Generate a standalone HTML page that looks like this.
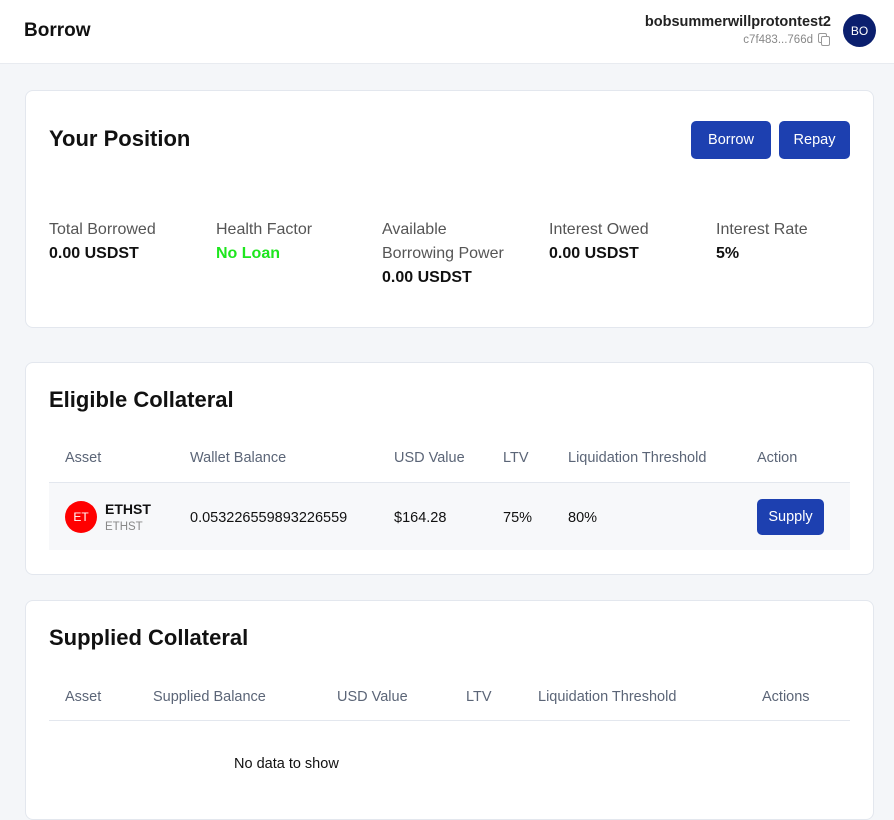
<!DOCTYPE html>
<html><head><style>
*{margin:0;padding:0;box-sizing:border-box}
body{width:894px;height:793px;overflow:hidden;background:#f4f6f9;font-family:"Liberation Sans",sans-serif;color:#111;position:relative}
.a{position:absolute;white-space:nowrap}
.card{position:absolute;left:25px;width:849px;background:#fff;border:1px solid #e3e7ee;border-radius:8px}
.btn{position:absolute;background:#1d40b0;color:#fff;border-radius:5px;font-size:14.5px;display:flex;align-items:center;justify-content:center}
.lab{font-size:16px;color:#555;transform:translateY(2px)}
.val{font-size:16px;font-weight:bold;transform:translateY(2px)}
.th{font-size:14.5px;color:#5b6577;transform:translateY(2px)}
.td{font-size:14.5px;color:#111;transform:translateY(2px)}
.h{font-size:22px;font-weight:bold;transform:translateY(2px)}
</style></head><body>
<div class="a" style="left:0;top:0;width:894px;height:64px;background:#fff;border-bottom:1px solid #e8ebf0"></div>
<div class="a" style="left:24px;top:20px;font-size:19px;font-weight:bold">Borrow</div>
<div class="a" style="right:63px;top:14px;font-size:14.5px;font-weight:bold;color:#222">bobsummerwillprotontest2</div>
<div class="a" style="right:81px;top:34px;font-size:11.5px;color:#888">c7f483...766d</div>
<div class="a" style="left:818px;top:33px;width:9px;height:10px;border:1.5px solid #999;border-radius:2px"></div>
<div class="a" style="left:821px;top:36px;width:9px;height:10px;border:1.5px solid #999;border-radius:2px;background:#fff"></div>
<div class="a" style="left:843px;top:14px;width:33px;height:33px;border-radius:50%;background:#0b1f6e;color:#fff;font-size:12px;display:flex;align-items:center;justify-content:center">BO</div>

<div class="card" style="top:90px;height:238px"></div>
<div class="a h" style="left:49px;top:124px">Your Position</div>
<div class="btn" style="left:691px;top:121px;width:80px;height:38px">Borrow</div>
<div class="btn" style="left:779px;top:121px;width:71px;height:38px">Repay</div>
<div class="a lab" style="left:49px;top:219px">Total Borrowed</div>
<div class="a val" style="left:49px;top:243px">0.00 USDST</div>
<div class="a lab" style="left:216px;top:219px">Health Factor</div>
<div class="a val" style="left:216px;top:243px;color:#1ee61e">No Loan</div>
<div class="a lab" style="left:382px;top:219px">Available</div>
<div class="a lab" style="left:382px;top:243px">Borrowing Power</div>
<div class="a val" style="left:382px;top:267px">0.00 USDST</div>
<div class="a lab" style="left:549px;top:219px">Interest Owed</div>
<div class="a val" style="left:549px;top:243px">0.00 USDST</div>
<div class="a lab" style="left:716px;top:219px">Interest Rate</div>
<div class="a val" style="left:716px;top:243px">5%</div>

<div class="card" style="top:362px;height:213px"></div>
<div class="a h" style="left:49px;top:385px">Eligible Collateral</div>
<div class="a th" style="left:65px;top:448px">Asset</div>
<div class="a th" style="left:190px;top:448px">Wallet Balance</div>
<div class="a th" style="left:394px;top:448px">USD Value</div>
<div class="a th" style="left:503px;top:448px">LTV</div>
<div class="a th" style="left:568px;top:448px">Liquidation Threshold</div>
<div class="a th" style="left:757px;top:448px">Action</div>
<div class="a" style="left:49px;top:482px;width:801px;height:68px;background:#f7f8fa;border-top:1px solid #e3e7ee"></div>
<div class="a" style="left:65px;top:501px;width:32px;height:32px;border-radius:50%;background:#f00;color:#fff;font-size:12px;display:flex;align-items:center;justify-content:center">ET</div>
<div class="a" style="left:105px;top:501px;font-size:14px;font-weight:bold">ETHST</div>
<div class="a" style="left:105px;top:521px;font-size:11.5px;color:#888">ETHST</div>
<div class="a td" style="left:190px;top:508px">0.053226559893226559</div>
<div class="a td" style="left:394px;top:508px">$164.28</div>
<div class="a td" style="left:503px;top:508px">75%</div>
<div class="a td" style="left:568px;top:508px">80%</div>
<div class="btn" style="left:757px;top:499px;width:67px;height:36px">Supply</div>

<div class="card" style="top:600px;height:220px"></div>
<div class="a h" style="left:49px;top:623px">Supplied Collateral</div>
<div class="a th" style="left:65px;top:687px">Asset</div>
<div class="a th" style="left:153px;top:687px">Supplied Balance</div>
<div class="a th" style="left:337px;top:687px">USD Value</div>
<div class="a th" style="left:466px;top:687px">LTV</div>
<div class="a th" style="left:538px;top:687px">Liquidation Threshold</div>
<div class="a th" style="left:762px;top:687px">Actions</div>
<div class="a" style="left:49px;top:720px;width:801px;height:1px;background:#e3e7ee"></div>
<div class="a td" style="left:234px;top:754px">No data to show</div>
</body></html>
